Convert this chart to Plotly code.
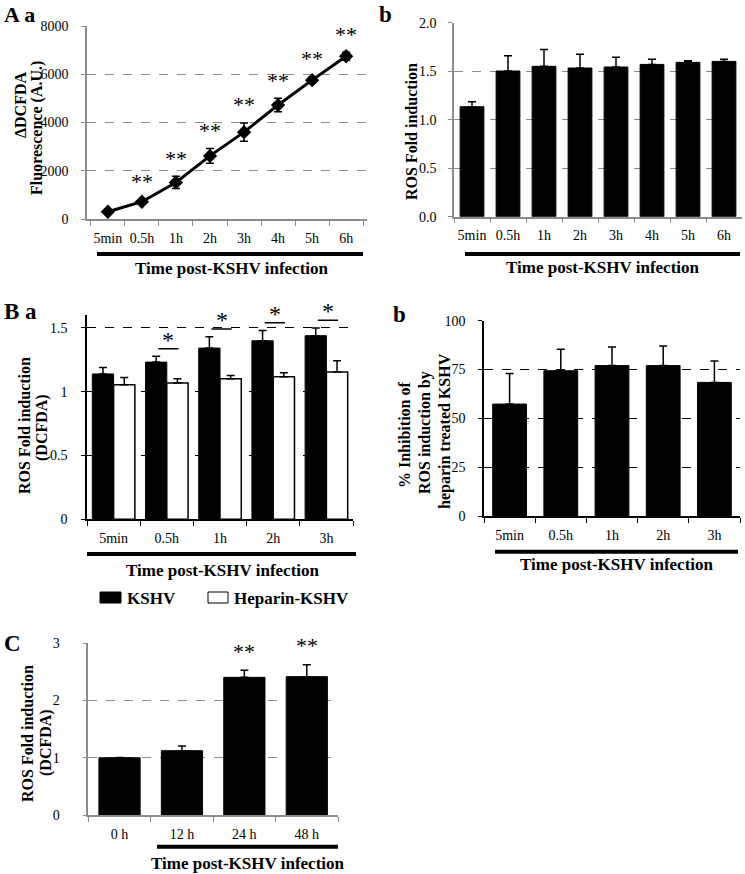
import plotly.graph_objects as go

# ---------------- data ----------------
cats_A = ["5min", "0.5h", "1h", "2h", "3h", "4h", "5h", "6h"]
aa_vals = [300, 716, 1515, 2616, 3600, 4723, 5756, 6747]
aa_err = [50, 80, 255, 310, 380, 280, 130, 170]
aa_sig = ["", "**", "**", "**", "**", "**", "**", "**"]

ab_vals = [1.134, 1.502, 1.55, 1.533, 1.543, 1.57, 1.591, 1.601]
ab_err = [0.052, 0.158, 0.175, 0.141, 0.10, 0.052, 0.017, 0.021]

cats_B = ["5min", "0.5h", "1h", "2h", "3h"]
ba_kshv = [1.138, 1.231, 1.341, 1.398, 1.438]
ba_kshv_err = [0.05, 0.045, 0.089, 0.081, 0.06]
ba_hep = [1.054, 1.067, 1.101, 1.117, 1.153]
ba_hep_err = [0.057, 0.034, 0.026, 0.031, 0.089]
ba_sig = ["", "*", "*", "*", "*"]

bb_vals = [57.3, 74.4, 77.0, 77.0, 68.4]
bb_err = [15.7, 11.0, 9.5, 10.0, 11.0]

cats_C = ["0 h", "12 h", "24 h", "48 h"]
c_vals = [1.0, 1.124, 2.405, 2.417]
c_err = [0.005, 0.082, 0.123, 0.21]
c_sig = ["", "", "**", "**"]

W, H = 745, 874
SERIF = "Liberation Serif, Times New Roman, serif"
GRAY = "#8c8c8c"


def fx(px):
    return px / W


def fy(py):
    return 1 - py / H


fig = go.Figure()

# Aa line
fig.add_trace(go.Scatter(
    x=cats_A, y=aa_vals, mode="lines+markers",
    line=dict(color="black", width=3),
    marker=dict(symbol="diamond", size=11, color="black"),
    error_y=dict(type="data", array=aa_err, color="black", thickness=1.5, width=4),
    xaxis="x", yaxis="y", showlegend=False))

# Ab bars
fig.add_trace(go.Bar(
    x=cats_A, y=ab_vals, width=0.66,
    marker=dict(color="black", line=dict(color="black", width=1)),
    error_y=dict(type="data", symmetric=False, array=ab_err, arrayminus=[0] * len(ab_err),
                 color="black", thickness=1.5, width=4),
    xaxis="x2", yaxis="y2", showlegend=False))

# Ba grouped bars
fig.add_trace(go.Bar(
    x=cats_B, y=ba_kshv, width=0.4, offset=-0.4, name="KSHV",
    marker=dict(color="black", line=dict(color="black", width=1)),
    error_y=dict(type="data", symmetric=False, array=ba_kshv_err, arrayminus=[0] * 5,
                 color="black", thickness=1.5, width=4),
    xaxis="x3", yaxis="y3", showlegend=False))
fig.add_trace(go.Bar(
    x=cats_B, y=ba_hep, width=0.4, offset=0.0, name="Heparin-KSHV",
    marker=dict(color="white", line=dict(color="black", width=1.5)),
    error_y=dict(type="data", symmetric=False, array=ba_hep_err, arrayminus=[0] * 5,
                 color="black", thickness=1.5, width=4),
    xaxis="x3", yaxis="y3", showlegend=False))

# Bb bars
fig.add_trace(go.Bar(
    x=cats_B, y=bb_vals, width=0.66,
    marker=dict(color="black", line=dict(color="black", width=1)),
    error_y=dict(type="data", symmetric=False, array=bb_err, arrayminus=[0] * 5,
                 color="black", thickness=1.5, width=4),
    xaxis="x4", yaxis="y4", showlegend=False))

# C bars
fig.add_trace(go.Bar(
    x=cats_C, y=c_vals, width=0.66,
    marker=dict(color="black", line=dict(color="black", width=1)),
    error_y=dict(type="data", symmetric=False, array=c_err, arrayminus=[0] * 4,
                 color="black", thickness=1.5, width=4),
    xaxis="x5", yaxis="y5", showlegend=False))


def xax(x0, x1, anchor, color):
    return dict(domain=[fx(x0), fx(x1)], anchor=anchor, type="category", automargin=False,
                tickson="boundaries", ticks="outside", ticklen=5, tickcolor=color,
                tickangle=0, ticklabelstandoff=5,
                showline=True, linecolor=color, linewidth=1.5, showgrid=False,
                tickfont=dict(family=SERIF, size=14, color="black"), fixedrange=True)


def yax(y0, y1, anchor, color, gridcolor, rng, dtick, fmt=None, standoff=8):
    d = dict(domain=[fy(y1), fy(y0)], anchor=anchor, range=rng, dtick=dtick, automargin=False,
             showline=True, linecolor=color, linewidth=1.5, ticks="outside", ticklen=4,
             tickcolor=color, showgrid=True, gridcolor=gridcolor, griddash="dash",
             gridwidth=1.2, zeroline=False, ticklabelstandoff=standoff, fixedrange=True,
             tickfont=dict(family=SERIF, size=14, color="black"))
    if fmt:
        d["tickformat"] = fmt
    return d


layout = dict(
    width=W, height=H, margin=dict(l=0, r=0, t=0, b=0, autoexpand=False),
    paper_bgcolor="white", plot_bgcolor="white", barmode="overlay",
    font=dict(family=SERIF, color="black"),
    xaxis=xax(87, 367, "y", GRAY),
    yaxis=yax(26, 219, "x", GRAY, GRAY, [0, 8000], 2000, standoff=10),
    xaxis2=xax(454, 742, "y2", GRAY),
    yaxis2=yax(22.7, 216.7, "x2", GRAY, GRAY, [0, 2], 0.5, ".1f", standoff=9),
    xaxis3=xax(87, 353, "y3", "black"),
    yaxis3=yax(315, 519.3, "x3", "black", "black", [0, 1.6], 0.5, standoff=11),
    xaxis4=xax(484, 740, "y4", "black"),
    yaxis4=yax(320.7, 516, "x4", "black", "black", [0, 100], 25, standoff=10),
    xaxis5=xax(88.3, 338, "y5", GRAY),
    yaxis5=yax(643.3, 815, "x5", GRAY, GRAY, [0, 3], 1, standoff=20),
)
fig.update_layout(**layout)

shapes = []
ann = []

# underlines + x titles
for (x0, x1, yl, xt, yt) in [(97, 363, 254, 232, 268), (465, 740, 254, 603, 267),
                             (87, 356, 554, 223, 570), (495, 738, 551.7, 617, 564),
                             (157, 338, 846.7, 248, 863)]:
    shapes.append(dict(type="line", xref="paper", yref="paper", x0=fx(x0), x1=fx(x1),
                       y0=fy(yl), y1=fy(yl), line=dict(color="black", width=4)))
    ann.append(dict(text="<b>Time post-KSHV infection</b>", xref="paper", yref="paper",
                    x=fx(xt), y=fy(yt), showarrow=False, xanchor="center", yanchor="middle",
                    font=dict(family=SERIF, size=17, color="black")))

# y titles (one annotation per line, for tight line spacing)
for (txt, xc, yc) in [("ΔDCFDA", 20, 105), ("Fluorescence (A.U.)", 37, 128),
                      ("ROS Fold induction", 411, 131),
                      ("ROS Fold induction", 24, 426), ("(DCFDA)", 42, 428),
                      ("% Inhibition of", 404, 435), ("ROS induction by", 425, 432),
                      ("heparin treated KSHV", 445, 431),
                      ("ROS Fold induction", 27, 734), ("(DCFDA)", 46, 743)]:
    ann.append(dict(text="<b>" + txt + "</b>", xref="paper", yref="paper", x=fx(xc), y=fy(yc),
                    textangle=-90, showarrow=False, xanchor="center", yanchor="middle",
                    font=dict(family=SERIF, size=16, color="black")))

# panel labels
ann.append(dict(text="<b>A a</b>", xref="paper", yref="paper", x=fx(2), y=1.0,
                showarrow=False, xanchor="left", yanchor="top",
                font=dict(family=SERIF, size=22, color="black")))
ann.append(dict(text="<b>b</b>", xref="paper", yref="paper", x=fx(377), y=1.0,
                showarrow=False, xanchor="left", yanchor="top",
                font=dict(family=SERIF, size=23, color="black")))
for (txt, xl, yc) in [("B a", 2, 311), ("b", 391, 314), ("C", 2, 643)]:
    ann.append(dict(text="<b>" + txt + "</b>", xref="paper", yref="paper", x=fx(xl), y=fy(yc),
                    showarrow=False, xanchor="left", yanchor="middle",
                    font=dict(family=SERIF, size=23, color="black")))

# Aa asterisks
for i, s in enumerate(aa_sig):
    if s:
        ann.append(dict(text=s, xref="x", yref="y", x=i, y=aa_vals[i] + aa_err[i] + 150,
                        showarrow=False, yanchor="bottom",
                        font=dict(family=SERIF, size=22, color="black")))

# Ba significance bars
for i, s in enumerate(ba_sig):
    if s:
        top = max(ba_kshv[i] + ba_kshv_err[i], ba_hep[i] + ba_hep_err[i]) + 0.06
        shapes.append(dict(type="line", xref="x3", yref="y3", x0=i - 0.16, x1=i + 0.22,
                           y0=top, y1=top, line=dict(color="black", width=1.5)))
        ann.append(dict(text=s, xref="x3", yref="y3", x=i + 0.03, y=top, showarrow=False,
                        yanchor="bottom", yshift=-6,
                        font=dict(family=SERIF, size=24, color="black")))

# C asterisks
for i, s in enumerate(c_sig):
    if s:
        ann.append(dict(text=s, xref="x5", yref="y5", x=i, y=c_vals[i] + c_err[i] + 0.08,
                        showarrow=False, yanchor="bottom",
                        font=dict(family=SERIF, size=22, color="black")))

# legend swatches
shapes.append(dict(type="rect", xref="paper", yref="paper", x0=fx(100), x1=fx(121),
                   y0=fy(603), y1=fy(592), fillcolor="black", line=dict(color="black", width=1)))
shapes.append(dict(type="rect", xref="paper", yref="paper", x0=fx(208), x1=fx(228),
                   y0=fy(603), y1=fy(592), fillcolor="white", line=dict(color="black", width=1)))
ann.append(dict(text="<b>KSHV</b>", xref="paper", yref="paper", x=fx(125), y=fy(598),
                showarrow=False, xanchor="left", yanchor="middle",
                font=dict(family=SERIF, size=17, color="black")))
ann.append(dict(text="<b>Heparin-KSHV</b>", xref="paper", yref="paper", x=fx(232), y=fy(598),
                showarrow=False, xanchor="left", yanchor="middle",
                font=dict(family=SERIF, size=17, color="black")))

fig.update_layout(shapes=shapes, annotations=ann)
fig.write_html("out.html", config={"displayModeBar": False},
               post_script="document.body.style.margin='0';document.body.style.overflow='hidden';")
